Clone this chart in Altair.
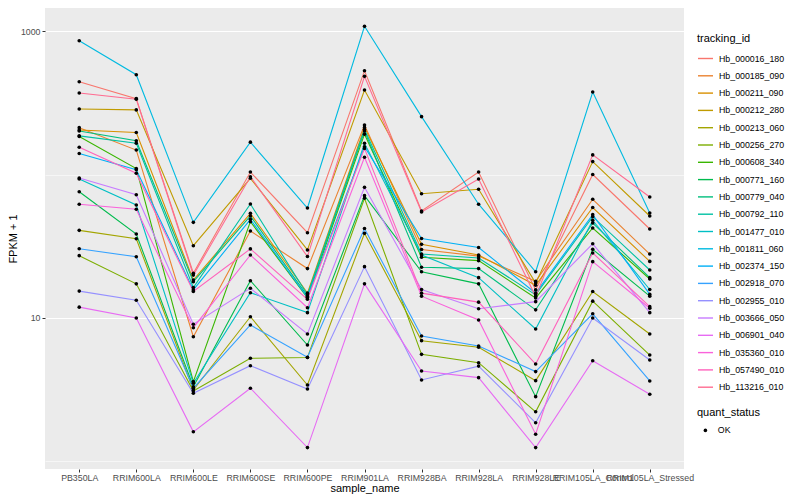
import altair as alt
import pandas as pd

samples = ["PB350LA", "RRIM600LA", "RRIM600LE", "RRIM600SE", "RRIM600PE", "RRIM901LA",
           "RRIM928BA", "RRIM928LA", "RRIM928LE", "RRIM105LA_Control", "RRIM105LA_Stressed"]

tracking_ids = ["Hb_000016_180", "Hb_000185_090", "Hb_000211_090", "Hb_000212_280", "Hb_000213_060",
                "Hb_000256_270", "Hb_000608_340", "Hb_000771_160", "Hb_000779_040", "Hb_000792_110",
                "Hb_001477_010", "Hb_001811_060", "Hb_002374_150", "Hb_002918_070", "Hb_002955_010",
                "Hb_003666_050", "Hb_006901_040", "Hb_035360_010", "Hb_057490_010", "Hb_113216_010"]

hue_colors = ["#F8766D", "#EA8331", "#D89000", "#C09B00", "#A3A500", "#7CAE00", "#39B600", "#00BB4E",
              "#00BF7D", "#00C1A3", "#00BFC4", "#00BAE0", "#00B0F6", "#35A2FF", "#9590FF", "#C77CFF",
              "#E76BF3", "#FA62DB", "#FF62BC", "#FF6C91"]

# FPKM + 1 per sample (order of `samples`)
hb_000016_180 = [443, 338, 20.5, 104, 39.3, 529, 55.7, 104, 15.7, 100, 41.7]
hb_000185_090 = [212, 148, 7.4, 40.4, 22.1, 221, 30.0, 27.0, 18.0, 67.2, 27.9]
hb_000211_090 = [204, 196, 18.4, 53.6, 14.9, 213, 32.6, 27.5, 16.9, 58.9, 24.8]
hb_000212_280 = [286, 282, 31.9, 94.1, 29.8, 388, 73.5, 78.9, 17.5, 123, 51.4]
hb_000213_060 = [40.8, 35.7, 3.15, 10.2, 3.41, 38.9, 6.95, 6.25, 3.66, 15.3, 7.74]
hb_000256_270 = [27.2, 17.3, 3.1, 5.24, 5.3, 68.3, 5.58, 4.88, 2.22, 13.1, 5.52]
hb_000608_340 = [184, 110, 3.6, 46.9, 13.8, 191, 26.5, 25.1, 13.8, 42.4, 18.7]
hb_000771_160 = [75.9, 38.5, 3.32, 18.2, 6.48, 71.2, 21.0, 17.3, 2.83, 30.1, 14.2]
hb_000779_040 = [201, 172, 17.9, 51.4, 14.2, 201, 22.6, 22.1, 11.4, 45.9, 19.1]
hb_000792_110 = [186, 165, 16.3, 62.3, 14.5, 206, 27.9, 26.2, 14.5, 50.8, 21.6]
hb_001477_010 = [93.0, 61.3, 3.51, 15.0, 10.9, 165, 27.5, 19.1, 8.38, 47.9, 15.8]
hb_001811_060 = [856, 496, 46.4, 168, 58.4, 1078, 253, 62.1, 21.0, 376, 53.9]
hb_002374_150 = [140, 108, 15.7, 48.7, 13.9, 156, 35.8, 31.0, 14.9, 52.5, 14.6]
hb_002918_070 = [30.4, 26.7, 3.24, 8.94, 5.32, 42.0, 7.49, 6.38, 4.23, 10.7, 3.64]
hb_002955_010 = [15.4, 13.3, 2.99, 4.65, 3.20, 22.8, 3.70, 4.62, 1.86, 10.0, 5.10]
hb_003666_050 = [94.5, 72.3, 9.04, 16.1, 7.74, 81.4, 15.8, 11.6, 13.0, 32.9, 10.9]
hb_006901_040 = [11.9, 10.0, 1.61, 3.24, 1.25, 17.3, 4.27, 3.84, 1.25, 5.04, 2.94]
hb_035360_010 = [62.0, 57.2, 8.56, 27.5, 11.8, 132, 14.2, 9.68, 1.55, 24.7, 11.7]
hb_057490_010 = [155, 102, 15.3, 30.3, 13.5, 152, 14.9, 12.9, 4.78, 28.4, 12.0]
hb_113216_010 = [370, 335, 19.9, 96.5, 26.8, 483, 54.8, 93.0, 14.1, 137, 69.7]

series = [hb_000016_180, hb_000185_090, hb_000211_090, hb_000212_280, hb_000213_060,
          hb_000256_270, hb_000608_340, hb_000771_160, hb_000779_040, hb_000792_110,
          hb_001477_010, hb_001811_060, hb_002374_150, hb_002918_070, hb_002955_010,
          hb_003666_050, hb_006901_040, hb_035360_010, hb_057490_010, hb_113216_010]

y_breaks = [1, 10, 100, 1000]

rows = []
for tid, vals in zip(tracking_ids, series):
    for s, v in zip(samples, vals):
        rows.append({"tracking_id": tid, "sample_name": s, "fpkm": v, "quant_status": "OK"})
df = pd.DataFrame(rows)

FONT = "Liberation Sans"
major = "datum.value == 10 || datum.value == 1000"

x_enc = alt.X("sample_name:N", sort=samples,
              scale=alt.Scale(domain=samples, padding=0.6),
              axis=alt.Axis(title="sample_name", labelAngle=0, labelOverlap=False,
                            labelPadding=1, titlePadding=1, gridWidth=1.1))
y_enc = alt.Y("fpkm:Q",
              scale=alt.Scale(type="log", domain=[0.8865, 1446.6], nice=False),
              axis=alt.Axis(title="FPKM + 1", values=y_breaks, format="d",
                            labelExpr=f"({major}) ? datum.label : ''",
                            gridWidth={"condition": {"test": major, "value": 1.1}, "value": 0.55},
                            tickOpacity={"condition": {"test": major, "value": 1}, "value": 0},
                            labelPadding=2, titlePadding=2))

lines = alt.Chart(df).mark_line(strokeWidth=1.1).encode(
    x=x_enc, y=y_enc,
    color=alt.Color("tracking_id:N", scale=alt.Scale(domain=tracking_ids, range=hue_colors),
                    legend=alt.Legend(title="tracking_id", orient="none", legendX=652, legendY=25,
                                      symbolType="stroke", symbolSize=225, symbolStrokeWidth=1.4,
                                      labelOffset=5, rowPadding=3.3, titlePadding=6)),
    detail="tracking_id:N",
)

points = alt.Chart(df).mark_point(filled=True, size=13, color="black", opacity=1).encode(
    x=x_enc, y=y_enc,
    shape=alt.Shape("quant_status:N", scale=alt.Scale(range=["circle"]),
                    legend=alt.Legend(title="quant_status", orient="none", legendX=652, legendY=399,
                                      symbolSize=13, symbolOffset=4, labelOffset=8, titlePadding=8)),
)

chart = alt.layer(lines, points).properties(
    width=639, height=461,
    autosize=alt.AutoSizeParams(type="none"),
    padding={"left": 37, "top": 0, "right": 105, "bottom": 27},
    background="white",
).configure_view(fill="#EBEBEB", stroke=None).configure_axis(
    domain=False, gridColor="white", tickColor="#333333", tickSize=3, tickWidth=1,
    labelColor="#4D4D4D", labelFontSize=8.8, labelFont=FONT,
    titleColor="black", titleFontSize=11, titleFont=FONT, titleFontWeight="normal",
).configure_legend(
    titleFont=FONT, titleFontSize=11, titleFontWeight="normal", titleColor="black",
    labelFont=FONT, labelFontSize=8.8, labelColor="black", padding=0,
)

chart.save("out.html", embed_options={"renderer": "svg", "actions": False})
